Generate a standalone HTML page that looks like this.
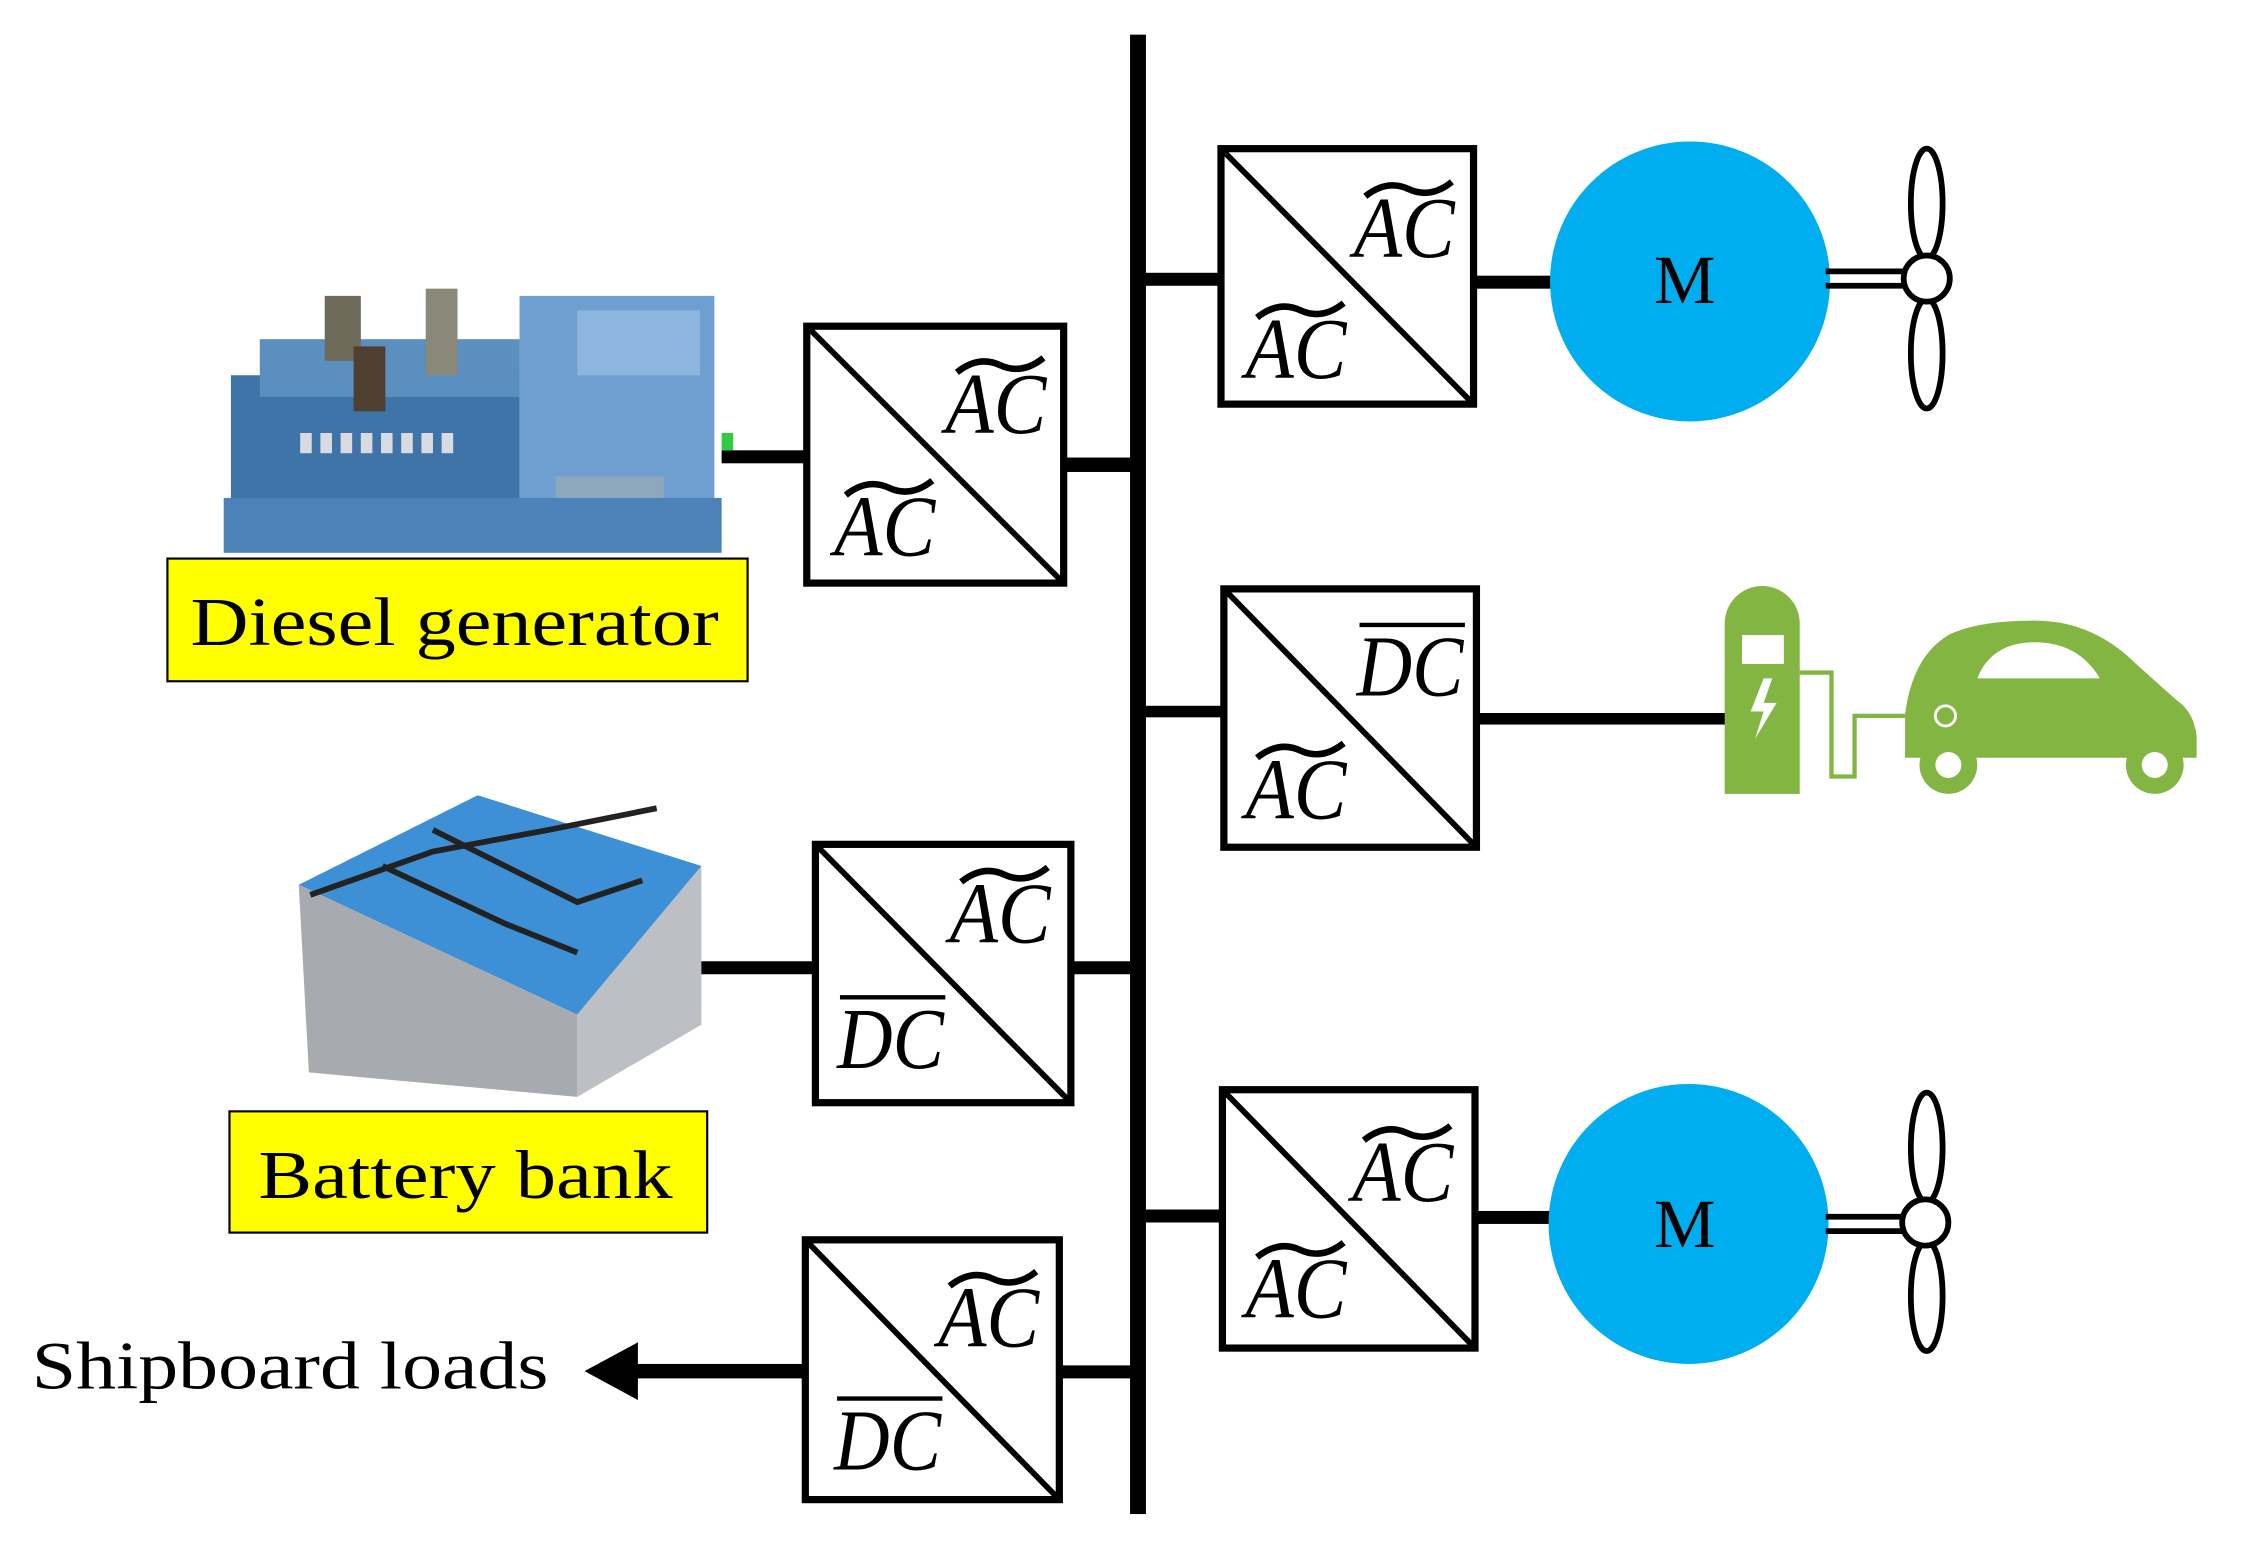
<!DOCTYPE html>
<html><head><meta charset="utf-8"><style>
html,body{margin:0;padding:0;background:#fff;}
svg{display:block;}
.lb{font-family:"Liberation Serif",serif;font-style:italic;font-size:60px;fill:#000;}
.tx{font-family:"Liberation Serif",serif;font-size:46px;fill:#000;}
</style></head><body>
<svg width="2263" height="1551" viewBox="0 0 1568 1074.6" preserveAspectRatio="none" xmlns="http://www.w3.org/2000/svg">
<rect width="1580" height="1080" fill="#fff"/>
<rect x="783" y="24" width="11" height="1025" fill="#000"/>
<g fill="#000">
<rect x="793" y="189" width="52" height="9"/>
<rect x="738" y="317" width="46" height="10"/>
<rect x="500" y="312" width="57" height="9"/>
<rect x="793" y="489" width="53" height="8"/>
<rect x="1024" y="494" width="172" height="8"/>
<rect x="480" y="666" width="83" height="9"/>
<rect x="743" y="666" width="41" height="9"/>
<rect x="793" y="838" width="52" height="9"/>
<rect x="1023" y="839" width="52" height="9"/>
<rect x="1022" y="191" width="54" height="9"/>
<rect x="735" y="946" width="49" height="9"/>
<rect x="438" y="945" width="118" height="10"/>
<polygon points="405,950 442,930 442,970"/>
</g>
<g fill="#fff" stroke="#000" stroke-width="5">
<rect x="559" y="226" width="178" height="178"/>
<rect x="846" y="103" width="175" height="177"/>
<rect x="848" y="408" width="175" height="179"/>
<rect x="565" y="585" width="177" height="179"/>
<rect x="847" y="755" width="175" height="179"/>
<rect x="558" y="859" width="176" height="180"/>
</g>
<g stroke="#000" stroke-width="4">
<line x1="559" y1="226" x2="737" y2="404"/>
<line x1="846" y1="103" x2="1021" y2="280"/>
<line x1="848" y1="408" x2="1023" y2="587"/>
<line x1="565" y1="585" x2="742" y2="764"/>
<line x1="847" y1="755" x2="1022" y2="934"/>
<line x1="558" y1="859" x2="734" y2="1039"/>
</g>
<g>
<text x="655" y="300" class="lb" textLength="70" lengthAdjust="spacingAndGlyphs">AC</text>
<text x="578" y="385" class="lb" textLength="70" lengthAdjust="spacingAndGlyphs">AC</text>
<text x="938" y="178" class="lb" textLength="70" lengthAdjust="spacingAndGlyphs">AC</text>
<text x="863" y="262" class="lb" textLength="70" lengthAdjust="spacingAndGlyphs">AC</text>
<text x="940" y="482" class="lb" textLength="74" lengthAdjust="spacingAndGlyphs">DC</text>
<text x="863" y="567" class="lb" textLength="70" lengthAdjust="spacingAndGlyphs">AC</text>
<text x="658" y="653" class="lb" textLength="70" lengthAdjust="spacingAndGlyphs">AC</text>
<text x="580" y="740" class="lb" textLength="74" lengthAdjust="spacingAndGlyphs">DC</text>
<text x="937" y="832" class="lb" textLength="70" lengthAdjust="spacingAndGlyphs">AC</text>
<text x="863" y="913" class="lb" textLength="70" lengthAdjust="spacingAndGlyphs">AC</text>
<text x="650" y="933" class="lb" textLength="70" lengthAdjust="spacingAndGlyphs">AC</text>
<text x="578" y="1018" class="lb" textLength="74" lengthAdjust="spacingAndGlyphs">DC</text>
</g>
<g fill="none" stroke="#000" stroke-width="4.5">
<path d="M663 258 q15 -12 30 -5 t30 -5"/>
<path d="M586 343 q15 -12 30 -5 t30 -5"/>
<path d="M946 136 q15 -12 30 -5 t30 -5"/>
<path d="M871 220 q15 -12 30 -5 t30 -5"/>
<path d="M871 525 q15 -12 30 -5 t30 -5"/>
<path d="M666 611 q15 -12 30 -5 t30 -5"/>
<path d="M945 790 q15 -12 30 -5 t30 -5"/>
<path d="M871 871 q15 -12 30 -5 t30 -5"/>
<path d="M658 891 q15 -12 30 -5 t30 -5"/>
</g>
<g stroke="#000" stroke-width="3">
<line x1="942" y1="433" x2="1015" y2="433"/>
<line x1="582" y1="691" x2="655" y2="691"/>
<line x1="580" y1="969" x2="653" y2="969"/>
</g>
<circle cx="1171" cy="195" r="97" fill="#00aeef"/>
<circle cx="1170" cy="848" r="97" fill="#00aeef"/>
<text x="1146" y="210" class="tx" style="font-size:48px">M</text>
<text x="1146" y="864" class="tx" style="font-size:48px">M</text>
<g fill="#fff" stroke="#000" stroke-width="4">
<line x1="1265" y1="188" x2="1320" y2="188"/>
<line x1="1265" y1="198" x2="1320" y2="198"/>
<ellipse cx="1335" cy="141" rx="11" ry="38"/>
<ellipse cx="1335" cy="245" rx="11" ry="38"/>
<circle cx="1335" cy="193" r="16"/>
<line x1="1265" y1="843" x2="1320" y2="843"/>
<line x1="1265" y1="853" x2="1320" y2="853"/>
<ellipse cx="1335" cy="795" rx="11" ry="38"/>
<ellipse cx="1335" cy="898" rx="11" ry="38"/>
<circle cx="1334" cy="847" r="16"/>
</g>
<g fill="#82b541">
<path d="M1195 550 V432 a26 26 0 0 1 52 0 V550 Z"/>
<path d="M1320 525 V495 q5 -40 30 -55 q20 -10 60 -10 q40 0 70 30 l28 25 q12 8 14 25 V525 Z"/>
<circle cx="1350" cy="530" r="20"/><circle cx="1493" cy="530" r="20"/>
</g>
<rect x="1207" y="440" width="29" height="20" fill="#fff"/>
<polygon points="1222,470 1213,493 1222,493 1216,512 1231,487 1222,487 1228,470" fill="#fff"/>
<path d="M1370 470 q10 -25 40 -25 q30 0 45 25 Z" fill="#fff"/>
<circle cx="1350" cy="530" r="9" fill="#fff"/><circle cx="1493" cy="530" r="9" fill="#fff"/>
<g fill="none" stroke="#82b541" stroke-width="3">
<path d="M1247 466 h22 v72 h16 v-42 h60"/>
</g>
<circle cx="1348" cy="496" r="7" fill="none" stroke="#fff" stroke-width="2"/>
<g>
<rect x="160" y="260" width="200" height="90" fill="#3f74a8"/>
<rect x="180" y="235" width="180" height="40" fill="#5b8fc0"/>
<rect x="225" y="205" width="25" height="45" fill="#6d6a5a"/>
<rect x="295" y="200" width="22" height="60" fill="#8a8878"/>
<rect x="245" y="240" width="22" height="45" fill="#4e3f30"/>
<g fill="#d8dce0"><rect x="208" y="300" width="8" height="14"/><rect x="222" y="300" width="8" height="14"/><rect x="236" y="300" width="8" height="14"/><rect x="250" y="300" width="8" height="14"/><rect x="264" y="300" width="8" height="14"/><rect x="278" y="300" width="8" height="14"/><rect x="292" y="300" width="8" height="14"/><rect x="306" y="300" width="8" height="14"/></g>
<rect x="360" y="205" width="135" height="150" fill="#6f9fd0"/>
<rect x="400" y="215" width="85" height="45" fill="#8db5de"/>
<rect x="385" y="330" width="75" height="45" fill="#8ea7bd"/>
<rect x="155" y="345" width="345" height="38" fill="#4c82b8"/>
<rect x="500" y="300" width="8" height="12" fill="#2ecc40"/>
</g>
<g>
<polygon points="207,613 331,551 486,600 400,703" fill="#3d8fd6"/>
<polygon points="207,613 400,703 400,760 214,743" fill="#a7abb0"/>
<polygon points="400,703 486,600 486,710 400,760" fill="#bcc0c4"/>
<g stroke="#222" stroke-width="4" fill="none">
<path d="M215 620 L300 590 L380 575 L455 560"/>
<path d="M265 600 L350 640 L400 660"/>
<path d="M300 575 L400 625 L445 610"/>
</g>
</g>
<rect x="116" y="387" width="402" height="85" fill="#ffff00" stroke="#000" stroke-width="1.5"/>
<text x="132" y="447" class="tx" style="font-size:48px" textLength="366" lengthAdjust="spacingAndGlyphs">Diesel generator</text>
<rect x="159" y="770" width="331" height="84" fill="#ffff00" stroke="#000" stroke-width="1.5"/>
<text x="179" y="830" class="tx" style="font-size:48px" textLength="287" lengthAdjust="spacingAndGlyphs">Battery bank</text>
<text x="22" y="962" class="tx" style="font-size:47px" textLength="358" lengthAdjust="spacingAndGlyphs">Shipboard loads</text>
</svg>
</body></html>
